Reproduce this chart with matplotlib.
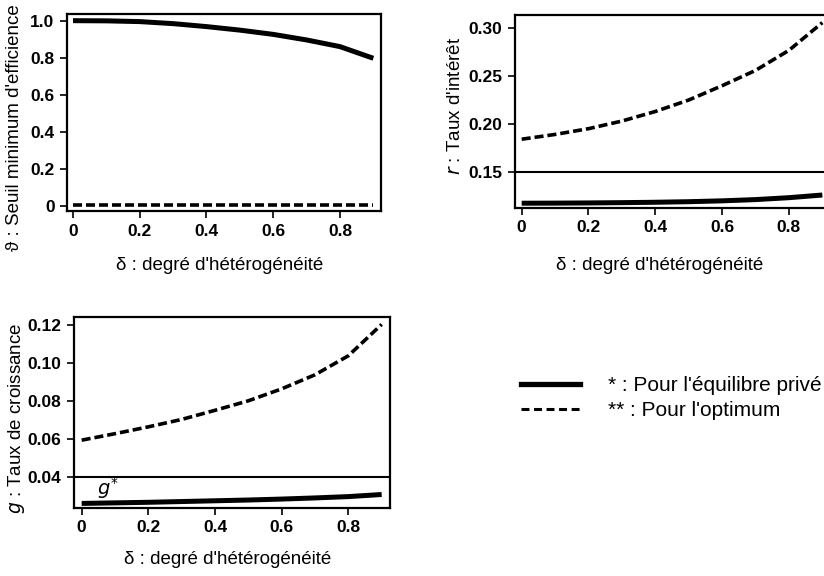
import matplotlib
matplotlib.use("Agg")
import matplotlib.pyplot as plt
from matplotlib.lines import Line2D

plt.rcParams['font.family'] = ['Liberation Sans', 'DejaVu Sans']

# ---- data ----
delta = [0.0, 0.1, 0.2, 0.3, 0.4, 0.5, 0.6, 0.7, 0.8, 0.9]

theta_priv = [1.000, 0.999, 0.995, 0.984, 0.968, 0.949, 0.926, 0.896, 0.860, 0.797]
theta_opt  = [0.005, 0.005, 0.005, 0.005, 0.005, 0.005, 0.005, 0.005, 0.005, 0.005]

r_priv = [0.1170, 0.1171, 0.1173, 0.1176, 0.1180, 0.1186, 0.1195, 0.1208, 0.1228, 0.1256]
r_opt  = [0.1840, 0.1890, 0.1950, 0.2030, 0.2130, 0.2250, 0.2400, 0.2560, 0.2770, 0.3060]

g_priv = [0.0263, 0.0266, 0.0269, 0.0273, 0.0277, 0.0281, 0.0286, 0.0292, 0.0299, 0.0310]
g_opt  = [0.0596, 0.0630, 0.0666, 0.0705, 0.0753, 0.0803, 0.0866, 0.0940, 0.1040, 0.1205]

x_ticks = [0, 0.2, 0.4, 0.6, 0.8]
x_ticklabels = ['0', '0.2', '0.4', '0.6', '0.8']
theta_ticks = [0, 0.2, 0.4, 0.6, 0.8, 1.0]
theta_ticklabels = ['0', '0.2', '0.4', '0.6', '0.8', '1.0']
r_ticks = [0.15, 0.20, 0.25, 0.30]
r_ticklabels = ['0.15', '0.20', '0.25', '0.30']
g_ticks = [0.04, 0.06, 0.08, 0.10, 0.12]
g_ticklabels = ['0.04', '0.06', '0.08', '0.10', '0.12']

r_ref = 0.15
g_ref = 0.04

xlabel = "δ : degré d'hétérogénéité"
legend_labels = ["* : Pour l'équilibre privé", "** : Pour l'optimum"]

W, H = 824, 576
fig = plt.figure(figsize=(W / 100, H / 100), dpi=100)


def box(l, t, r, b):
    return [l / W, (H - b) / H, (r - l) / W, (b - t) / H]


solid_kw = dict(color='black', lw=3.6, solid_capstyle='butt')
dash_kw = dict(color='black', lw=2.6, dashes=(2.5, 1.1))
labfont = 13.5


def style(ax):
    for s in ax.spines.values():
        s.set_linewidth(1.6)
    ax.tick_params(direction='out', length=5, width=1.2, pad=4)
    for lab in ax.get_xticklabels() + ax.get_yticklabels():
        lab.set_fontsize(12.5)
        lab.set_fontweight('bold')


# Panel 1
ax1 = fig.add_axes(box(67, 14, 381, 211))
ax1.plot(delta, theta_priv, **solid_kw)
ax1.plot(delta, theta_opt, **dash_kw)
ax1.set_xlim(-0.018, 0.923)
ax1.set_ylim(-0.027, 1.036)
ax1.set_xticks(x_ticks, x_ticklabels)
ax1.set_yticks(theta_ticks, theta_ticklabels)
style(ax1)

# Panel 2
ax2 = fig.add_axes(box(515, 15, 829, 208))
ax2.plot(delta, r_priv, **solid_kw)
ax2.plot(delta, r_opt, **dash_kw)
ax2.axhline(r_ref, color='black', lw=1.5)
ax2.set_xlim(-0.020, 0.920)
ax2.set_ylim(0.112, 0.314)
ax2.set_xticks(x_ticks, x_ticklabels)
ax2.set_yticks(r_ticks, r_ticklabels)
style(ax2)

# Panel 3
ax3 = fig.add_axes(box(74, 317, 390, 508))
ax3.plot(delta, g_priv, **solid_kw)
ax3.plot(delta, g_opt, **dash_kw)
ax3.axhline(g_ref, color='black', lw=1.5)
ax3.set_xlim(-0.023, 0.925)
ax3.set_ylim(0.0239, 0.1244)
ax3.set_xticks(x_ticks, x_ticklabels)
ax3.set_yticks(g_ticks, g_ticklabels)
ax3.text(0.046, 0.0308, r'$g^{*}$', fontsize=14, ha='left', va='baseline')
style(ax3)

# axis labels
fig.text(220 / W, 1 - 265 / H, xlabel, ha='center', va='center', fontsize=labfont)
fig.text(660 / W, 1 - 265 / H, xlabel, ha='center', va='center', fontsize=labfont)
fig.text(228 / W, 1 - 560 / H, xlabel, ha='center', va='center', fontsize=labfont)

fig.text(15 / W, 1 - 128 / H, "ϑ : Seuil minimum d'efficience", rotation=90,
         ha='center', va='center', fontsize=labfont)
fig.text(455 / W, 1 - 106 / H, r"$r$ : Taux d'intérêt", rotation=90,
         ha='center', va='center', fontsize=labfont)
fig.text(17 / W, 1 - 418 / H, r"$g$ : Taux de croissance", rotation=90,
         ha='center', va='center', fontsize=labfont)

# legend
handles = [Line2D([], [], color='black', lw=3.8),
           Line2D([], [], color='black', lw=2.2, dashes=(2.6, 1.5))]
fig.legend(handles, legend_labels, loc='upper left',
           bbox_to_anchor=(521 / W, 1 - 376 / H), frameon=False,
           fontsize=15, handlelength=2.85, handletextpad=1.35,
           labelspacing=0.3, borderaxespad=0, borderpad=0)

fig.savefig('out.png', dpi=100)
